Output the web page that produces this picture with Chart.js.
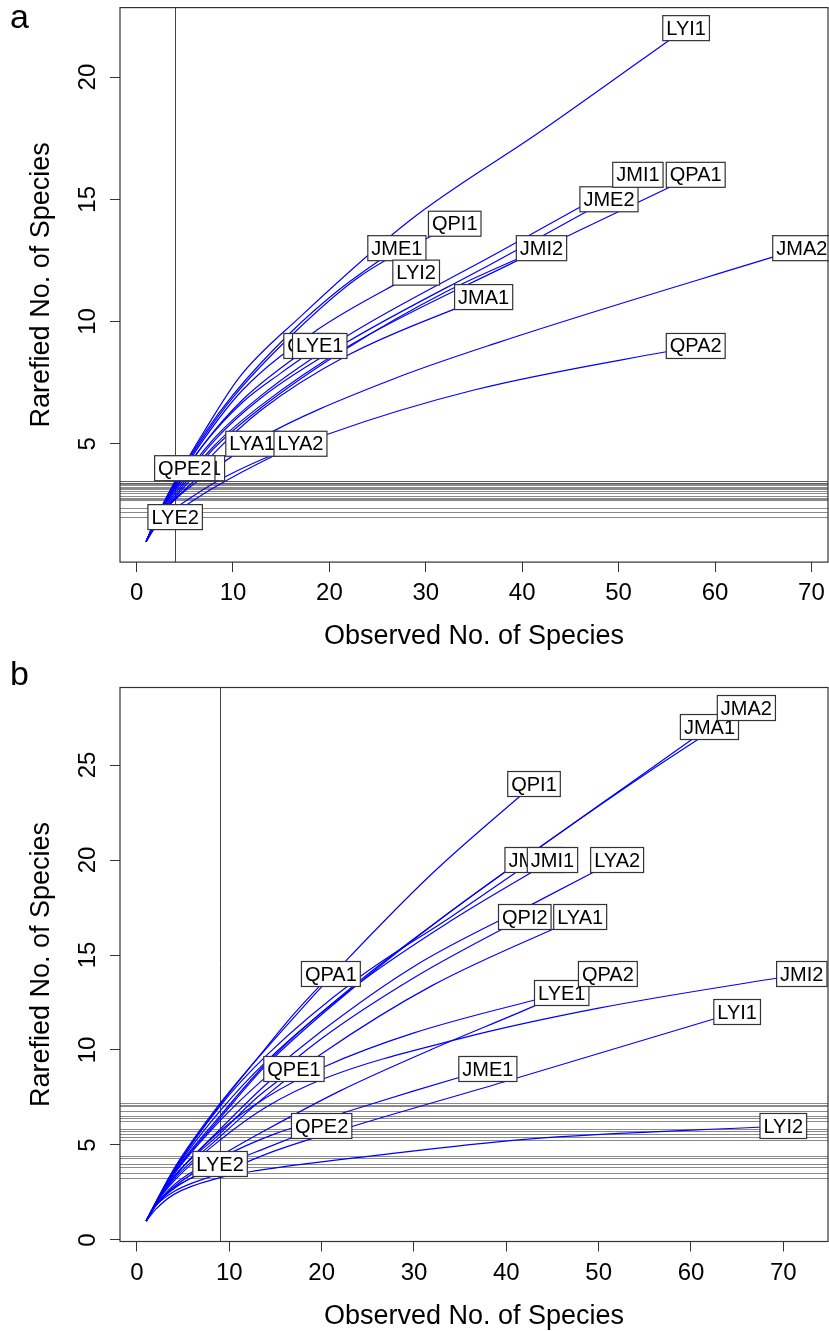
<!DOCTYPE html>
<html>
<head>
<meta charset="utf-8">
<script src="https://cdn.jsdelivr.net/npm/chart.js@4.4.0/dist/chart.umd.min.js"></script>
<style>
  body{ margin:0; background:#fff; width:829px; height:1331px; position:relative; overflow:hidden; }
  canvas{ position:absolute; left:0; }
</style>
</head>
<body>
<canvas id="chart-a" width="829" height="660" style="top:0"></canvas>
<canvas id="chart-b" width="829" height="671" style="top:660px"></canvas>
<script>
const FONT = "'Liberation Sans', Arial, Helvetica, sans-serif";

const xTicks  = [0,10,20,30,40,50,60,70];
const yTicksA = [5,10,15,20];
const yTicksB = [0,5,10,15,20,25];

/* ---- panel a : rarefied at 4 individuals ---- */
const sampleA = 4;
const sitesA = ['JMA1','JMA2','JME1','JME2','JMI1','JMI2','QPI2','LYA1','LYA2','LYE1','LYE2','LYI1','LYI2','QPA1','QPA2','QPE1','QPE2','QPI1'];
const curveXA = [
  [1,2,4,8,13,21.8,36],
  [1,2,4,8,12.7,26.3,37.7,69],
  [1,2,4,7,10,15.9,21,27],
  [1,2,4,8,13,21.8,37.7,49],
  [1,2,4,8,13,21.8,37.7,52],
  [1,2,4,8,13,21.8,32,42],
  [1,2,4,7,11,18],
  [1,2,4,9.2,12],
  [1,2,4,8,14.2,17],
  [1,2,4,7,11,15,19],
  [1,2,3,4],
  [1,2,4,7,10.7,17,28.4,42,57],
  [1,2,4,7,11,18.7,29],
  [1,2,4,8,13,21.8,39,58],
  [1,2,4,9.2,19.9,35,58],
  [1,2,3,4,5,6],
  [1,2,3,4,5],
  [1,2,4,7,10,16.3,23,33]
];
const curveYA = [
  [1,1.84,2.79,4.6,6.4,8.6,11],
  [1,1.8,2.72,3.95,5.2,7.6,9.17,13],
  [1,1.92,3.47,5.4,7.0,9.52,11.3,13],
  [1,1.87,3.07,5.1,6.9,9.15,12.55,15],
  [1,1.88,3.15,5.2,7.0,9.4,12.86,16],
  [1,1.85,2.87,4.8,6.5,8.9,11.2,13],
  [1,1.88,3.24,5.0,6.8,9],
  [1,1.85,2.74,4.5,5],
  [1,1.7,2.2,3.2,4.5,5],
  [1,1.9,3.31,5.0,6.7,7.9,9],
  [1,1.6,1.85,2],
  [1,1.93,3.48,5.5,7.74,10.2,14.15,17.8,22],
  [1,1.9,3.35,5.2,7.2,9.65,12],
  [1,1.86,2.97,4.9,6.6,8.95,12.4,16],
  [1,1.75,2.36,3.65,5.4,7.2,9],
  [1,1.87,2.6,3.2,3.67,4],
  [1,1.9,2.7,3.4,4],
  [1,1.9,3.41,5.3,6.9,9.52,11.8,14]
];
const rareA = [2.79,2.72,3.47,3.07,3.15,2.87,3.24,2.74,2.2,3.31,2.0,3.48,3.35,2.97,2.36,3.2,3.4,3.41];

/* ---- panel b : rarefied at 9 individuals ---- */
const sampleB = 9;
const sitesB = ['JMA1','JMA2','JME1','JME2','JMI1','JMI2','LYA1','LYA2','LYE1','LYE2','LYI1','LYI2','QPA1','QPA2','QPE1','QPE2','QPI1','QPI2'];
const curveXB = [
  [1,2,4,9,14,24,34,44,53,62],
  [1,2,4,9,14,24,34,44,55,66],
  [1,2,4,9,15,22.2,30,38],
  [1,2,4,9,14,24,34,43],
  [1,2,4,9,14,24,34,45],
  [1,2,4,9,14,20.3,35,50,72],
  [1,2,4,9,14,20,32,48],
  [1,2,4,9,14,20,30,43.7,52],
  [1,2,4,9,14,20.3,30,46],
  [1,2,4,6,9],
  [1,2,4,9,15,23.2,39.8,65],
  [1,2,4,9,13,25,42,70],
  [1,2,4,9,12.85,17,21],
  [1,2,4,9,14,22,32,42,51],
  [1,2,4,9,13,17],
  [1,2,4,9,14,20],
  [1,2,4,9,15.5,22.65,32,43],
  [1,2,4,9,14,20,30,42]
];
const curveYB = [
  [1,1.93,3.55,6.53,9.3,13.6,17.3,20.8,23.9,27],
  [1,1.92,3.5,6.41,9.2,13.5,17.3,20.8,24.5,28],
  [1,1.8,2.8,4.3,5.6,6.67,7.85,9],
  [1,1.94,3.65,7.05,9.7,13.8,17,20],
  [1,1.93,3.6,6.79,9.4,13.5,16.8,20],
  [1,1.88,3.1,5.26,7.0,8.5,10.6,12.2,14],
  [1,1.88,3.2,5.44,7.6,9.8,13.4,17],
  [1,1.92,3.45,6.28,8.6,11,14.4,17.9,20],
  [1,1.9,3.3,5.74,7.5,9.12,10.9,13],
  [1,1.8,2.7,3.3,4],
  [1,1.78,2.55,3.51,4.7,5.96,8.33,12],
  [1,1.6,2.4,3.28,3.65,4.4,5.3,6],
  [1,1.95,3.7,7.12,9.45,11.9,14],
  [1,1.8,2.9,4.42,5.8,7.85,10.05,12.1,14],
  [1,1.9,3.35,5.6,7.5,9],
  [1,1.8,2.75,3.86,4.85,6],
  [1,1.95,3.75,7.19,10.9,14.7,19.3,24],
  [1,1.9,3.3,5.83,8.2,10.6,13.8,17]
];
const rareB = [6.53,6.41,4.3,7.05,6.79,5.26,5.44,6.28,5.74,4.0,3.51,3.28,7.12,4.42,5.6,3.86,7.19,5.83];

const rPlot = {
  id:'rPlot',
  beforeDatasetsDraw(chart, args, o){
    const {ctx, chartArea:a} = chart, x = chart.scales.x, y = chart.scales.y;
    ctx.save();
    ctx.lineWidth = 1;
    ctx.strokeStyle = 'rgba(60,60,60,0.6)';
    o.rare.forEach(v => {
      const py = Math.round(y.getPixelForValue(v)) + 0.5;
      ctx.beginPath(); ctx.moveTo(a.left, py); ctx.lineTo(a.right, py); ctx.stroke();
    });
    ctx.strokeStyle = '#444';
    const px = Math.round(x.getPixelForValue(o.sample)) + 0.5;
    ctx.beginPath(); ctx.moveTo(px, a.top); ctx.lineTo(px, a.bottom); ctx.stroke();
    ctx.restore();
  },
  afterDatasetsDraw(chart, args, o){
    const {ctx, chartArea:a} = chart, x = chart.scales.x, y = chart.scales.y;
    ctx.save();
    // site labels at the end of each curve
    ctx.font = '20px ' + FONT;
    ctx.textAlign = 'center'; ctx.textBaseline = 'middle';
    chart.data.datasets.forEach(ds => {
      const p = ds.data[ds.data.length-1];
      const px = x.getPixelForValue(p.x), py = y.getPixelForValue(p.y);
      const w = ctx.measureText(ds.label).width + 7, h = 25;
      ctx.fillStyle = '#fff'; ctx.fillRect(px-w/2, py-h/2, w, h);
      ctx.strokeStyle = '#333'; ctx.lineWidth = 1.2; ctx.strokeRect(px-w/2, py-h/2, w, h);
      ctx.fillStyle = '#000'; ctx.fillText(ds.label, px, py+1);
    });
    // frame
    ctx.strokeStyle = '#333'; ctx.lineWidth = 1.2;
    ctx.strokeRect(a.left, a.top, a.right-a.left, a.bottom-a.top);
    // tick labels
    ctx.font = '24px ' + FONT; ctx.fillStyle = '#000';
    ctx.textAlign = 'center'; ctx.textBaseline = 'alphabetic';
    o.xTicks.forEach(v => ctx.fillText(String(v), x.getPixelForValue(v), a.bottom + 38));
    o.yTicks.forEach(v => {
      ctx.save(); ctx.translate(a.left - 25.5, y.getPixelForValue(v)); ctx.rotate(-Math.PI/2);
      ctx.fillText(String(v), 0, 0); ctx.restore();
    });
    // axis titles
    ctx.font = '27px ' + FONT;
    ctx.fillText('Observed No. of Species', (a.left+a.right)/2, a.bottom + 82);
    ctx.save(); ctx.translate(a.left - 71, (a.top+a.bottom)/2); ctx.rotate(-Math.PI/2);
    ctx.fillText('Rarefied No. of Species', 0, 0); ctx.restore();
    // panel letter
    ctx.font = '34px ' + FONT; ctx.textAlign = 'left';
    ctx.fillText(o.letter, 10, o.letterY);
    ctx.restore();
  }
};

function makePanel(id, sites, xs, ys, rare, sample, yTicks, letter, layout){
  const maxN = Math.max(...xs.map(c => c[c.length-1]));
  const maxS = Math.max(...ys.map(c => c[c.length-1]));
  const padX = 0.04*(maxN-1), padY = 0.04*(maxS-1);
  return new Chart(document.getElementById(id), {
    type:'line',
    data:{
      datasets: sites.map((s,i) => ({
        label: s,
        data: xs[i].map((v,j) => ({ x:v, y:ys[i][j] })),
        borderColor:'#0000FF', borderWidth:1.2, pointRadius:0,
        cubicInterpolationMode:'monotone', fill:false
      }))
    },
    options:{
      responsive:false, animation:false, devicePixelRatio:1,
      layout:{ padding:{ top:layout.top, right:1, left:0, bottom:0 } },
      plugins:{
        legend:{ display:false }, tooltip:{ enabled:false },
        rPlot:{ rare, sample, xTicks, yTicks, letter, letterY:layout.letterY }
      },
      scales:{
        x:{
          type:'linear', min:1-padX, max:maxN+padX,
          afterBuildTicks: s => { s.ticks = xTicks.map(v => ({ value:v })); },
          afterFit: s => { s.height = layout.xh; },
          ticks:{ display:false },
          grid:{ drawOnChartArea:false, drawTicks:true, tickLength:10, color:'#333' },
          border:{ display:false }
        },
        y:{
          type:'linear', min:1-padY, max:maxS+padY,
          afterBuildTicks: s => { s.ticks = yTicks.map(v => ({ value:v })); },
          afterFit: s => { s.width = 120; },
          ticks:{ display:false },
          grid:{ drawOnChartArea:false, drawTicks:true, tickLength:10, color:'#333' },
          border:{ display:false }
        }
      }
    },
    plugins:[rPlot]
  });
}

makePanel('chart-a', sitesA, curveXA, curveYA, rareA, sampleA, yTicksA, 'a', { top:7.6, xh:97.9, letterY:28 });
makePanel('chart-b', sitesB, curveXB, curveYB, rareB, sampleB, yTicksB, 'b', { top:27.5, xh:89.5, letterY:25 });
</script>
</body>
</html>
